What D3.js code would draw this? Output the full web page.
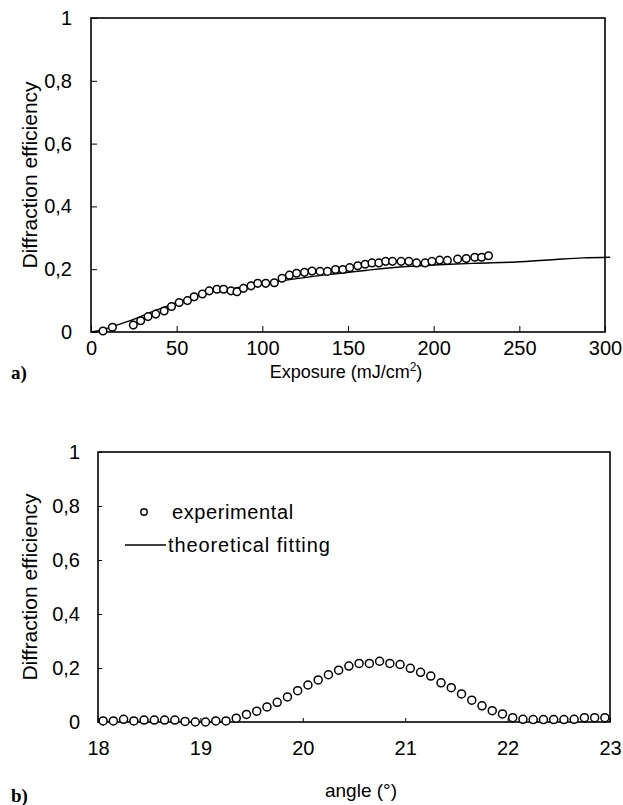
<!DOCTYPE html>
<html>
<head>
<meta charset="utf-8">
<script src="https://cdn.jsdelivr.net/npm/d3@7"></script>
<style>
  body { margin: 0; background: #fff; }
  svg { display: block; font-family: "Liberation Sans", Arial, sans-serif; }
</style>
</head>
<body>
<div id="chart"></div>
<script>
// a) efficiency vs exposure
const exposureExp = [7, 12.5, 24.7, 29, 33.3, 37.8, 42.7, 47, 51.5, 56.3, 60.2, 65, 69, 73.5, 77.4, 81.7, 85.2, 89, 93.4, 97.3,
  102, 107, 111.5, 115.8, 120, 124.6, 129, 133.7, 138, 142.7, 147, 151, 155.7, 160, 164, 168, 172, 176, 181, 185.5,
  190, 195, 199, 203.5, 208, 214, 219, 224, 228, 232];
const effExp = [0.003, 0.015, 0.022, 0.036, 0.049, 0.057, 0.067, 0.081, 0.094, 0.1, 0.112, 0.121, 0.131, 0.136, 0.136, 0.131, 0.128, 0.139, 0.147, 0.155,
  0.155, 0.157, 0.171, 0.181, 0.187, 0.19, 0.194, 0.193, 0.193, 0.199, 0.199, 0.205, 0.211, 0.216, 0.22, 0.22, 0.225, 0.225, 0.225, 0.225,
  0.22, 0.22, 0.225, 0.229, 0.228, 0.232, 0.234, 0.238, 0.238, 0.243];
const exposureFit = [0, 5, 15, 23, 35, 47, 60, 72, 80, 90, 100, 110, 120, 137, 160, 180, 206, 225, 248, 271, 287, 303];
const effFit = [0, 0.005, 0.022, 0.036, 0.063, 0.088, 0.112, 0.13, 0.136, 0.145, 0.153, 0.162, 0.17, 0.182, 0.196, 0.207, 0.215, 0.219, 0.223, 0.231, 0.236, 0.238];

// b) efficiency vs angle
const angle = [18.05, 18.15, 18.25, 18.35, 18.45, 18.55, 18.65, 18.75, 18.85, 18.95,
  19.05, 19.15, 19.25, 19.35, 19.45, 19.55, 19.65, 19.75, 19.85, 19.95,
  20.05, 20.15, 20.25, 20.35, 20.45, 20.55, 20.65, 20.75, 20.85, 20.95,
  21.05, 21.15, 21.25, 21.35, 21.45, 21.55, 21.65, 21.75, 21.85, 21.95,
  22.05, 22.15, 22.25, 22.35, 22.45, 22.55, 22.65, 22.75, 22.85, 22.95];
const effAngle = [0.004, 0.004, 0.01, 0.004, 0.007, 0.007, 0.007, 0.007, 0.002, 0,
  0, 0.004, 0.004, 0.014, 0.028, 0.04, 0.056, 0.073, 0.093, 0.116,
  0.137, 0.156, 0.175, 0.192, 0.207, 0.217, 0.217, 0.225, 0.217, 0.213,
  0.199, 0.184, 0.17, 0.145, 0.127, 0.104, 0.081, 0.06, 0.042, 0.03,
  0.016, 0.01, 0.009, 0.009, 0.009, 0.009, 0.01, 0.016, 0.016, 0.016];

const yTicks = [0, 0.2, 0.4, 0.6, 0.8, 1];
const xTicksA = [0, 50, 100, 150, 200, 250, 300];
const xTicksB = [18, 19, 20, 21, 22, 23];
const legendLabels = ["experimental", "theoretical fitting"];

const fmt = d => String(d).replace(".", ",");

const svg = d3.select("#chart").append("svg")
  .attr("width", 623)
  .attr("height", 805);

function panel(o) {
  const x = d3.scaleLinear().domain(o.xDomain).range([o.left, o.right]);
  const y = d3.scaleLinear().domain([0, 1]).range([o.bottom, o.top]);
  const g = svg.append("g");

  // frame
  g.append("rect")
    .attr("x", o.left).attr("y", o.top)
    .attr("width", o.right - o.left).attr("height", o.bottom - o.top)
    .attr("fill", "none").attr("stroke", "#000").attr("stroke-width", 1.6);

  const yAxis = g.append("g")
    .attr("transform", `translate(${o.left},0)`)
    .call(d3.axisLeft(y).tickValues(yTicks).tickFormat(fmt).tickSize(-o.tick).tickPadding(o.yPad));
  const xAxis = g.append("g")
    .attr("transform", `translate(0,${o.bottom})`)
    .call(d3.axisBottom(x).tickValues(o.xTicks).tickFormat(fmt).tickSize(-o.tick).tickPadding(o.xPad));
  [yAxis, xAxis].forEach(a => {
    a.select(".domain").remove();
    a.selectAll("line").attr("stroke", "#000").attr("stroke-width", 1);
    a.selectAll("text").attr("font-size", 20).attr("fill", "#000")
      .attr("font-family", "'Liberation Sans', Arial, sans-serif");
  });

  // y label
  g.append("text")
    .attr("transform", `translate(${o.yLabelX},${(o.top + o.bottom) / 2 + o.yLabelShift}) rotate(-90)`)
    .attr("text-anchor", "middle")
    .attr("font-size", 21)
    .text("Diffraction efficiency");

  return { g, x, y };
}

// ---- panel a ----
const A = panel({ left: 91, right: 605, top: 18, bottom: 332, xDomain: [0, 300], xTicks: xTicksA,
  tick: 6, yPad: 19, xPad: 9, yLabelX: 37, yLabelShift: 0 });

A.g.append("path")
  .datum(exposureFit.map((d, i) => [d, effFit[i]]))
  .attr("d", d3.line().x(d => A.x(d[0])).y(d => A.y(d[1])).curve(d3.curveMonotoneX))
  .attr("fill", "none").attr("stroke", "#000").attr("stroke-width", 1.4);

A.g.selectAll("circle.pt")
  .data(exposureExp.map((d, i) => [d, effExp[i]]))
  .enter().append("circle")
  .attr("class", "pt")
  .attr("cx", d => A.x(d[0])).attr("cy", d => A.y(d[1]))
  .attr("r", 3.8)
  .attr("fill", "#fff").attr("stroke", "#000").attr("stroke-width", 1.5);

const xlabA = svg.append("text")
  .attr("x", 346).attr("y", 378)
  .attr("text-anchor", "middle")
  .attr("font-size", 18);
xlabA.append("tspan").text("Exposure (mJ/cm");
xlabA.append("tspan").attr("font-size", 12).attr("dy", -7).text("2");
xlabA.append("tspan").attr("dy", 7).text(")");

svg.append("text")
  .attr("x", 11).attr("y", 379)
  .attr("font-family", "'Liberation Serif', 'Times New Roman', serif")
  .attr("font-weight", "bold").attr("font-size", 19)
  .text("a)");

// ---- panel b ----
const B = panel({ left: 98, right: 610, top: 452, bottom: 722, xDomain: [18, 23], xTicks: xTicksB,
  tick: 4, yPad: 18, xPad: 19, yLabelX: 37, yLabelShift: 0 });

B.g.selectAll("circle.pt")
  .data(angle.map((d, i) => [d, effAngle[i]]))
  .enter().append("circle")
  .attr("class", "pt")
  .attr("cx", d => B.x(d[0])).attr("cy", d => B.y(d[1]))
  .attr("r", 4)
  .attr("fill", "#fff").attr("stroke", "#000").attr("stroke-width", 1.5);

// legend
const lg = svg.append("g").attr("font-size", 20);
lg.append("circle").attr("cx", 144).attr("cy", 512).attr("r", 3.2)
  .attr("fill", "#fff").attr("stroke", "#000").attr("stroke-width", 1.4);
lg.append("text").attr("x", 172).attr("y", 519).attr("letter-spacing", 0.6).text(legendLabels[0]);
lg.append("line").attr("x1", 125).attr("x2", 166).attr("y1", 545).attr("y2", 545)
  .attr("stroke", "#000").attr("stroke-width", 1.4);
lg.append("text").attr("x", 168).attr("y", 552).attr("letter-spacing", 0.9).text(legendLabels[1]);

svg.append("text")
  .attr("x", 361).attr("y", 797)
  .attr("text-anchor", "middle")
  .attr("font-size", 19)
  .text("angle (°)");

svg.append("text")
  .attr("x", 11).attr("y", 802)
  .attr("font-family", "'Liberation Serif', 'Times New Roman', serif")
  .attr("font-weight", "bold").attr("font-size", 19)
  .text("b)");
</script>
</body>
</html>
